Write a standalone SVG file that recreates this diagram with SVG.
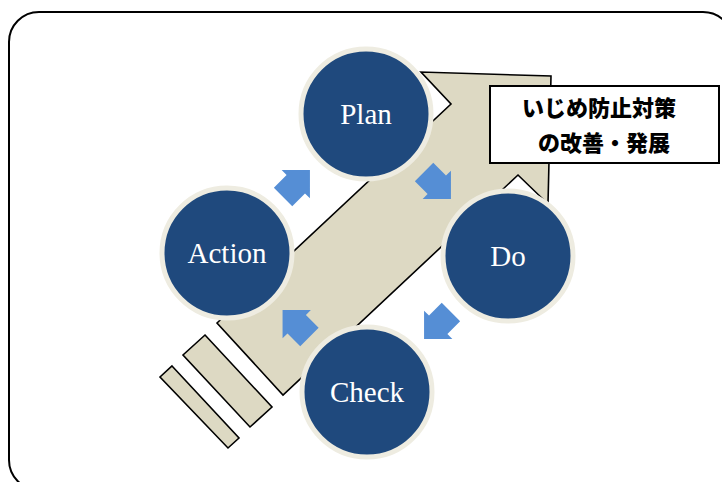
<svg xmlns="http://www.w3.org/2000/svg" width="722" height="482" viewBox="0 0 722 482">
<defs>
<style>
.frame{fill:#fff;stroke:#000;stroke-width:2}
.band{fill:#DDD9C3;stroke:#000;stroke-width:1.6;stroke-linejoin:miter}
.node circle{fill:#1F497D;stroke:#EEECE1;stroke-width:5}
.node text{fill:#fff;font-family:"Liberation Serif","Times New Roman",serif;font-size:29px;text-anchor:middle}
.blue{fill:#558ED5}
.box{fill:#fff;stroke:#000;stroke-width:2}
.jp{font-family:"Noto Sans CJK JP","Noto Sans",sans-serif;font-weight:900;font-size:22px;text-anchor:middle;fill:#000}
</style>
<polygon id="blk" points="-19,-13 -1,-13 -1,-20 19,0 -1,20 -1,13 -19,13"/>
</defs>
<rect class="frame" x="9" y="12" width="724" height="478" rx="30"/>
<g id="big-arrow">
<polygon class="band" points="217,323 451,104 421,72 551,76 548,204 518,175 283,395"/>
<polygon class="band" points="205,335 272,407 250,427 183,355"/>
<polygon class="band" points="172,366 239,438 228,448 160,377"/>
</g>
<g id="label">
<rect class="box" x="490" y="86" width="229" height="77"/>
<text class="jp" x="599" y="116">いじめ防止対策</text>
<text class="jp" x="604" y="151">の改善・発展</text>
</g>
<g id="connectors">
<use href="#blk" class="blue" transform="translate(296.5,183.5) rotate(-45)"/>
<use href="#blk" class="blue" transform="translate(437.5,185.5) rotate(45)"/>
<use href="#blk" class="blue" transform="translate(437.5,325.5) rotate(135)"/>
<use href="#blk" class="blue" transform="translate(296,323.5) rotate(-135)"/>
</g>
<g id="plan" class="node"><circle cx="366" cy="114" r="65"/><text x="366" y="124">Plan</text></g>
<g id="do" class="node"><circle cx="508" cy="256" r="65"/><text x="508" y="266">Do</text></g>
<g id="check" class="node"><circle cx="367" cy="392" r="65"/><text x="367" y="402">Check</text></g>
<g id="action" class="node"><circle cx="227" cy="253" r="65"/><text x="227" y="263">Action</text></g>
</svg>
